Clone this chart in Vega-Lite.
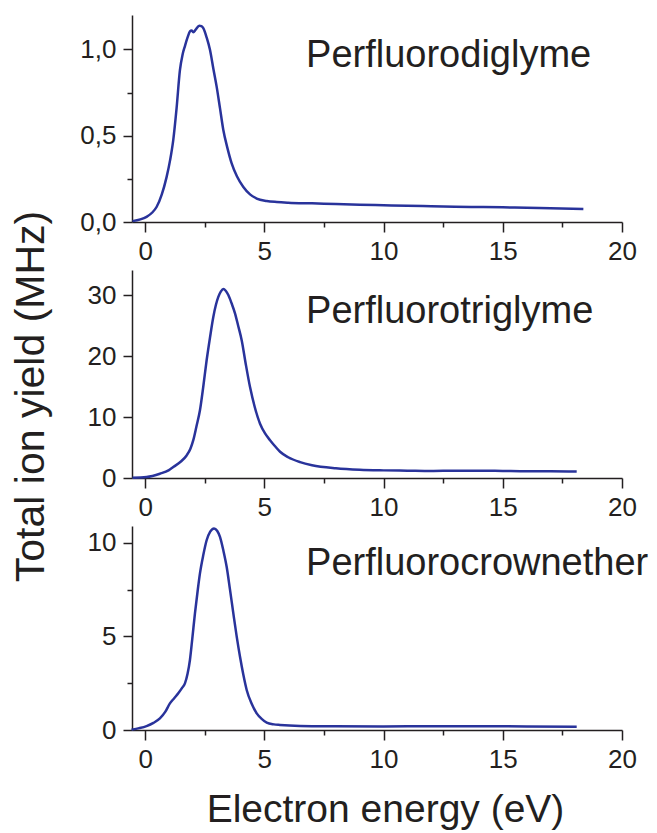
{
  "$schema": "https://vega.github.io/schema/vega-lite/v6.json",
  "padding": {"left": 10, "top": 15, "right": 5, "bottom": 5},
  "bounds": "flush",
  "spacing": 48,
  "background": "white",
  "config": {
    "view": {"stroke": null},
    "font": "Liberation Sans",
    "axis": {
      "domainColor": "#231f20", "domainWidth": 1.5,
      "tickColor": "#231f20", "tickWidth": 1.5,
      "labelFont": "Liberation Sans", "labelFontSize": 26, "labelColor": "#231f20",
      "grid": false,
      "titleFont": "Liberation Sans", "titleFontSize": 39, "titleFontWeight": "normal", "titleColor": "#231f20",
      "labelOverlap": false, "labelFlush": false
    }
  },
  "datasets": {
    "curves": [
      {"panel": 1, "energy": -0.53, "yield": 0.005},
      {"panel": 1, "energy": -0.2, "yield": 0.015},
      {"panel": 1, "energy": 0.06, "yield": 0.03},
      {"panel": 1, "energy": 0.3, "yield": 0.055},
      {"panel": 1, "energy": 0.48, "yield": 0.087},
      {"panel": 1, "energy": 0.7, "yield": 0.16},
      {"panel": 1, "energy": 0.9, "yield": 0.26},
      {"panel": 1, "energy": 1.05, "yield": 0.36},
      {"panel": 1, "energy": 1.18, "yield": 0.475},
      {"panel": 1, "energy": 1.32, "yield": 0.66},
      {"panel": 1, "energy": 1.46, "yield": 0.88},
      {"panel": 1, "energy": 1.57, "yield": 0.97},
      {"panel": 1, "energy": 1.67, "yield": 1.02},
      {"panel": 1, "energy": 1.78, "yield": 1.07},
      {"panel": 1, "energy": 1.88, "yield": 1.105},
      {"panel": 1, "energy": 1.95, "yield": 1.11},
      {"panel": 1, "energy": 2.02, "yield": 1.1},
      {"panel": 1, "energy": 2.12, "yield": 1.115},
      {"panel": 1, "energy": 2.27, "yield": 1.138},
      {"panel": 1, "energy": 2.36, "yield": 1.135},
      {"panel": 1, "energy": 2.44, "yield": 1.124},
      {"panel": 1, "energy": 2.58, "yield": 1.07},
      {"panel": 1, "energy": 2.72, "yield": 0.998},
      {"panel": 1, "energy": 2.86, "yield": 0.89},
      {"panel": 1, "energy": 3.0, "yield": 0.785},
      {"panel": 1, "energy": 3.14, "yield": 0.66},
      {"panel": 1, "energy": 3.28, "yield": 0.533},
      {"panel": 1, "energy": 3.45, "yield": 0.43},
      {"panel": 1, "energy": 3.63, "yield": 0.34},
      {"panel": 1, "energy": 3.85, "yield": 0.265},
      {"panel": 1, "energy": 4.12, "yield": 0.203},
      {"panel": 1, "energy": 4.4, "yield": 0.16},
      {"panel": 1, "energy": 4.68, "yield": 0.136},
      {"panel": 1, "energy": 5.1, "yield": 0.122},
      {"panel": 1, "energy": 5.52, "yield": 0.116},
      {"panel": 1, "energy": 6, "yield": 0.112},
      {"panel": 1, "energy": 7, "yield": 0.108},
      {"panel": 1, "energy": 8, "yield": 0.104},
      {"panel": 1, "energy": 9, "yield": 0.1},
      {"panel": 1, "energy": 10, "yield": 0.097},
      {"panel": 1, "energy": 11, "yield": 0.094},
      {"panel": 1, "energy": 12, "yield": 0.092},
      {"panel": 1, "energy": 13, "yield": 0.089},
      {"panel": 1, "energy": 14, "yield": 0.087},
      {"panel": 1, "energy": 15, "yield": 0.085},
      {"panel": 1, "energy": 16, "yield": 0.082},
      {"panel": 1, "energy": 17, "yield": 0.08},
      {"panel": 1, "energy": 18.38, "yield": 0.076},
      {"panel": 2, "energy": -0.53, "yield": 0.05},
      {"panel": 2, "energy": 0.06, "yield": 0.16},
      {"panel": 2, "energy": 0.62, "yield": 0.7},
      {"panel": 2, "energy": 1.0, "yield": 1.3},
      {"panel": 2, "energy": 1.18, "yield": 1.8},
      {"panel": 2, "energy": 1.5, "yield": 2.7},
      {"panel": 2, "energy": 1.74, "yield": 3.7},
      {"panel": 2, "energy": 1.9, "yield": 4.8},
      {"panel": 2, "energy": 2.02, "yield": 6.2},
      {"panel": 2, "energy": 2.15, "yield": 8.4},
      {"panel": 2, "energy": 2.3, "yield": 11.1},
      {"panel": 2, "energy": 2.44, "yield": 15},
      {"panel": 2, "energy": 2.58, "yield": 19.3},
      {"panel": 2, "energy": 2.72, "yield": 23},
      {"panel": 2, "energy": 2.86, "yield": 26.4},
      {"panel": 2, "energy": 2.97, "yield": 28.4},
      {"panel": 2, "energy": 3.07, "yield": 29.7},
      {"panel": 2, "energy": 3.18, "yield": 30.6},
      {"panel": 2, "energy": 3.28, "yield": 31.0},
      {"panel": 2, "energy": 3.38, "yield": 30.7},
      {"panel": 2, "energy": 3.49, "yield": 30.0},
      {"panel": 2, "energy": 3.63, "yield": 28.6},
      {"panel": 2, "energy": 3.77, "yield": 27.0},
      {"panel": 2, "energy": 3.9, "yield": 25},
      {"panel": 2, "energy": 4.05, "yield": 22.6},
      {"panel": 2, "energy": 4.22, "yield": 18.7},
      {"panel": 2, "energy": 4.4, "yield": 14.9},
      {"panel": 2, "energy": 4.6, "yield": 11.6},
      {"panel": 2, "energy": 4.82, "yield": 8.9},
      {"panel": 2, "energy": 5.03, "yield": 7.3},
      {"panel": 2, "energy": 5.24, "yield": 6.2},
      {"panel": 2, "energy": 5.45, "yield": 5.2},
      {"panel": 2, "energy": 5.66, "yield": 4.3},
      {"panel": 2, "energy": 6.0, "yield": 3.4},
      {"panel": 2, "energy": 6.5, "yield": 2.6},
      {"panel": 2, "energy": 7, "yield": 2.1},
      {"panel": 2, "energy": 8, "yield": 1.6},
      {"panel": 2, "energy": 9, "yield": 1.35},
      {"panel": 2, "energy": 10, "yield": 1.25},
      {"panel": 2, "energy": 11, "yield": 1.2},
      {"panel": 2, "energy": 12, "yield": 1.15},
      {"panel": 2, "energy": 13, "yield": 1.2},
      {"panel": 2, "energy": 14, "yield": 1.2},
      {"panel": 2, "energy": 15, "yield": 1.15},
      {"panel": 2, "energy": 16, "yield": 1.1},
      {"panel": 2, "energy": 17, "yield": 1.1},
      {"panel": 2, "energy": 18.1, "yield": 1.05},
      {"panel": 3, "energy": -0.57, "yield": 0.02},
      {"panel": 3, "energy": -0.25, "yield": 0.1},
      {"panel": 3, "energy": 0.06, "yield": 0.21},
      {"panel": 3, "energy": 0.35, "yield": 0.38},
      {"panel": 3, "energy": 0.62, "yield": 0.62},
      {"panel": 3, "energy": 0.85, "yield": 0.98},
      {"panel": 3, "energy": 1.04, "yield": 1.42},
      {"panel": 3, "energy": 1.22, "yield": 1.7},
      {"panel": 3, "energy": 1.39, "yield": 1.96},
      {"panel": 3, "energy": 1.55, "yield": 2.25},
      {"panel": 3, "energy": 1.67, "yield": 2.49},
      {"panel": 3, "energy": 1.78, "yield": 3.0},
      {"panel": 3, "energy": 1.88, "yield": 3.74},
      {"panel": 3, "energy": 1.98, "yield": 4.9},
      {"panel": 3, "energy": 2.09, "yield": 6.23},
      {"panel": 3, "energy": 2.2, "yield": 7.4},
      {"panel": 3, "energy": 2.3, "yield": 8.37},
      {"panel": 3, "energy": 2.44, "yield": 9.35},
      {"panel": 3, "energy": 2.58, "yield": 10.14},
      {"panel": 3, "energy": 2.73, "yield": 10.6},
      {"panel": 3, "energy": 2.89, "yield": 10.77},
      {"panel": 3, "energy": 3.02, "yield": 10.65},
      {"panel": 3, "energy": 3.14, "yield": 10.32},
      {"panel": 3, "energy": 3.28, "yield": 9.6},
      {"panel": 3, "energy": 3.42, "yield": 8.72},
      {"panel": 3, "energy": 3.56, "yield": 7.5},
      {"panel": 3, "energy": 3.7, "yield": 6.23},
      {"panel": 3, "energy": 3.84, "yield": 5.0},
      {"panel": 3, "energy": 3.98, "yield": 3.91},
      {"panel": 3, "energy": 4.12, "yield": 2.95},
      {"panel": 3, "energy": 4.26, "yield": 2.14},
      {"panel": 3, "energy": 4.47, "yield": 1.4},
      {"panel": 3, "energy": 4.68, "yield": 0.89},
      {"panel": 3, "energy": 4.9, "yield": 0.58},
      {"panel": 3, "energy": 5.1, "yield": 0.39},
      {"panel": 3, "energy": 5.4, "yield": 0.3},
      {"panel": 3, "energy": 5.66, "yield": 0.27},
      {"panel": 3, "energy": 6.5, "yield": 0.22},
      {"panel": 3, "energy": 8, "yield": 0.2},
      {"panel": 3, "energy": 10, "yield": 0.19},
      {"panel": 3, "energy": 12, "yield": 0.2},
      {"panel": 3, "energy": 14, "yield": 0.2},
      {"panel": 3, "energy": 16, "yield": 0.19},
      {"panel": 3, "energy": 18.1, "yield": 0.18}
    ],
    "labels": [
      {"panel": 1, "energy": 6.75, "yield": 0.9, "label": "Perfluorodiglyme"},
      {"panel": 2, "energy": 6.75, "yield": 25.4, "label": "Perfluorotriglyme"},
      {"panel": 3, "energy": 6.75, "yield": 8.28, "label": "Perfluorocrownether"}
    ]
  },
  "vconcat": [
    {
      "width": 490, "height": 207,
      "layer": [
        {
          "data": {"name": "curves"},
          "transform": [{"filter": "datum.panel == 1"}],
          "mark": {"type": "line", "color": "#29339b", "strokeWidth": 2.5, "interpolate": "monotone"},
          "encoding": {
            "x": {"field": "energy", "type": "quantitative",
              "scale": {"domain": [-0.55, 20], "nice": false, "zero": false},
              "axis": {"values": [0, 2.5, 5, 7.5, 10, 12.5, 15, 17.5, 20],
                "tickSize": {"condition": {"test": "datum.value % 5 != 0", "value": 5}, "value": 10},
                "labelExpr": "datum.value % 5 == 0 ? datum.label : ''", "title": null, "labelPadding": 6}},
            "y": {"field": "yield", "type": "quantitative",
              "scale": {"domain": [0, 1.2], "nice": false, "zero": false},
              "axis": {"values": [0, 0.25, 0.5, 0.75, 1.0],
                "tickSize": {"condition": {"test": "datum.value == 0.25 || datum.value == 0.75", "value": 5}, "value": 9},
                "labelExpr": "datum.value == 0.25 || datum.value == 0.75 ? '' : replace(format(datum.value, '.1f'), '.', ',')",
                "title": null, "labelPadding": 7}}
          }
        },
        {
          "data": {"name": "labels"},
          "transform": [{"filter": "datum.panel == 1"}],
          "mark": {"type": "text", "align": "left", "baseline": "alphabetic", "fontSize": 38, "font": "Liberation Sans", "color": "#231f20"},
          "encoding": {
            "x": {"field": "energy", "type": "quantitative"},
            "y": {"field": "yield", "type": "quantitative"},
            "text": {"field": "label"}
          }
        }
      ]
    },
    {
      "width": 490, "height": 208,
      "layer": [
        {
          "data": {"name": "curves"},
          "transform": [{"filter": "datum.panel == 2"}],
          "mark": {"type": "line", "color": "#29339b", "strokeWidth": 2.5, "interpolate": "monotone"},
          "encoding": {
            "x": {"field": "energy", "type": "quantitative",
              "scale": {"domain": [-0.55, 20], "nice": false, "zero": false},
              "axis": {"values": [0, 2.5, 5, 7.5, 10, 12.5, 15, 17.5, 20],
                "tickSize": {"condition": {"test": "datum.value % 5 != 0", "value": 5}, "value": 10},
                "labelExpr": "datum.value % 5 == 0 ? datum.label : ''", "title": null, "labelPadding": 6}},
            "y": {"field": "yield", "type": "quantitative",
              "scale": {"domain": [0, 34.1], "nice": false, "zero": false},
              "axis": {"values": [0, 5, 10, 15, 20, 25, 30],
                "tickSize": {"condition": {"test": "datum.value % 10 != 0", "value": 5}, "value": 9},
                "labelExpr": "datum.value % 10 == 0 ? datum.label : ''",
                "title": "Total ion yield (MHz)", "titleFontSize": 41, "titlePadding": 35, "titleY": 126, "labelPadding": 7}}
          }
        },
        {
          "data": {"name": "labels"},
          "transform": [{"filter": "datum.panel == 2"}],
          "mark": {"type": "text", "align": "left", "baseline": "alphabetic", "fontSize": 38, "font": "Liberation Sans", "color": "#231f20"},
          "encoding": {
            "x": {"field": "energy", "type": "quantitative"},
            "y": {"field": "yield", "type": "quantitative"},
            "text": {"field": "label"}
          }
        }
      ]
    },
    {
      "width": 490, "height": 204,
      "layer": [
        {
          "data": {"name": "curves"},
          "transform": [{"filter": "datum.panel == 3"}],
          "mark": {"type": "line", "color": "#29339b", "strokeWidth": 2.5, "interpolate": "monotone"},
          "encoding": {
            "x": {"field": "energy", "type": "quantitative",
              "scale": {"domain": [-0.55, 20], "nice": false, "zero": false},
              "axis": {"values": [0, 2.5, 5, 7.5, 10, 12.5, 15, 17.5, 20],
                "tickSize": {"condition": {"test": "datum.value % 5 != 0", "value": 5}, "value": 10},
                "labelExpr": "datum.value % 5 == 0 ? datum.label : ''",
                "title": "Electron energy (eV)", "titleX": 253, "titlePadding": 18, "labelPadding": 6}},
            "y": {"field": "yield", "type": "quantitative",
              "scale": {"domain": [0, 10.9], "nice": false, "zero": false},
              "axis": {"values": [0, 2.5, 5, 7.5, 10],
                "tickSize": {"condition": {"test": "datum.value % 5 != 0", "value": 5}, "value": 9},
                "labelExpr": "datum.value % 5 == 0 ? datum.label : ''",
                "title": null, "labelPadding": 7}}
          }
        },
        {
          "data": {"name": "labels"},
          "transform": [{"filter": "datum.panel == 3"}],
          "mark": {"type": "text", "align": "left", "baseline": "alphabetic", "fontSize": 38, "font": "Liberation Sans", "color": "#231f20"},
          "encoding": {
            "x": {"field": "energy", "type": "quantitative"},
            "y": {"field": "yield", "type": "quantitative"},
            "text": {"field": "label"}
          }
        }
      ]
    }
  ]
}
